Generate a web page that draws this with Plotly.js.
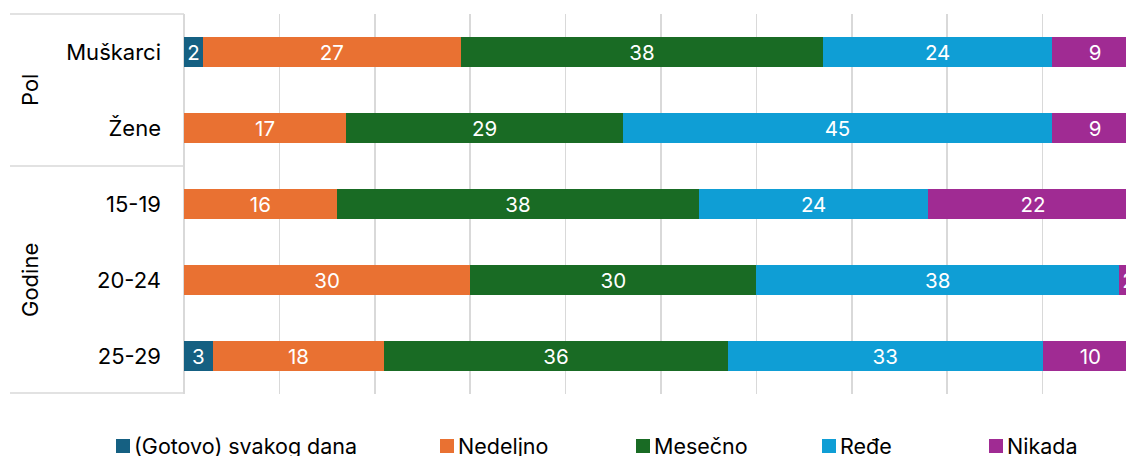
<!DOCTYPE html>
<html>
<head>
<meta charset="utf-8">
<script src="https://cdn.plot.ly/plotly-3.0.1.min.js"></script>
<style>
html,body{margin:0;padding:0;overflow:hidden;background:#fff;width:1126px;height:456px;}
#chart{width:1160px;height:456px;}
</style>
</head>
<body>
<div id="chart"></div>
<script>
// Data
const categories = ["Muškarci", "Žene", "15-19", "20-24", "25-29"];
const groups = ["Pol", "Godine"];
const seriesNames = ["(Gotovo) svakog dana", "Nedeljno", "Mesečno", "Ređe", "Nikada"];
const svakogDana = [2, 0, 0, 0, 3];
const nedeljno = [27, 17, 16, 30, 18];
const mesecno = [38, 29, 38, 30, 36];
const rede = [24, 45, 24, 38, 33];
const nikada = [9, 9, 22, 2, 10];
const colors = ["#156082", "#E97132", "#196B24", "#0F9ED5", "#A02B93"];

const FONT = "Inter, Noto Sans, DejaVu Sans, sans-serif";
const W = 1160, H = 456;
const L = 184, R = 22, T = 14, B = 62;
const plotW = W - L - R, plotH = H - T - B;
const px = x => (x - L) / plotW;
const py = y => (H - B - y) / plotH;

const seriesValues = [svakogDana, nedeljno, mesecno, rede, nikada];
const traces = seriesValues.map((vals, i) => ({
  type: "bar",
  orientation: "h",
  name: seriesNames[i],
  y: categories,
  x: vals,
  marker: {color: colors[i], line: {width: 0}},
  text: vals.map(v => v > 0 ? String(v) : ""),
  textposition: "inside",
  insidetextanchor: "middle",
  textangle: 0,
  textfont: {color: "#ffffff", size: 20.5, family: FONT},
  constraintext: "none",
  hoverinfo: "skip",
  showlegend: false
}));

const shapes = [];
const annotations = [];
// label panel lines
[14, 166, 393].forEach(y => {
  shapes.push({type: "line", xref: "paper", yref: "paper", x0: px(10), x1: 0, y0: py(y), y1: py(y), line: {color: "#d9d9d9", width: 1.5}});
});
// group labels
annotations.push({xref: "paper", yref: "paper", x: px(30), y: py(90), text: groups[0], textangle: -90, showarrow: false, font: {size: 22, color: "#000", family: FONT}, xanchor: "center", yanchor: "middle"});
annotations.push({xref: "paper", yref: "paper", x: px(30), y: py(280), text: groups[1], textangle: -90, showarrow: false, font: {size: 22, color: "#000", family: FONT}, xanchor: "center", yanchor: "middle"});

// legend
const legendX = [116, 440, 636, 822, 989];
const legY = 446;
seriesNames.forEach((n, i) => {
  const x0 = legendX[i];
  shapes.push({type: "rect", xref: "paper", yref: "paper", x0: px(x0), x1: px(x0 + 14), y0: py(legY - 7), y1: py(legY + 7), fillcolor: colors[i], line: {width: 0}});
  annotations.push({xref: "paper", yref: "paper", x: px(x0 + 16), y: py(legY), text: n, showarrow: false, xanchor: "left", yanchor: "middle", font: {size: 21.5, color: "#000", family: FONT}});
});

const layout = {
  width: W, height: H,
  margin: {l: L, r: R, t: T, b: B, pad: 0},
  paper_bgcolor: "#fff", plot_bgcolor: "#fff",
  barmode: "stack",
  bargap: 0.605,
  showlegend: false,
  font: {family: FONT, color: "#000"},
  xaxis: {range: [0, 100], dtick: 10, tick0: 0, showgrid: true, gridcolor: "#d9d9d9", gridwidth: 1.5, zeroline: true, zerolinecolor: "#d9d9d9", zerolinewidth: 1.5, showticklabels: false, ticks: "", showline: false, fixedrange: true},
  yaxis: {type: "category", autorange: "reversed", categoryorder: "array", categoryarray: categories, showgrid: false, zeroline: false, showline: false, ticks: "", ticklabelstandoff: 22, tickfont: {size: 22, color: "#000", family: FONT}, fixedrange: true},
  shapes: shapes,
  annotations: annotations
};

Plotly.newPlot("chart", traces, layout, {displayModeBar: false, staticPlot: true});
</script>
</body>
</html>
